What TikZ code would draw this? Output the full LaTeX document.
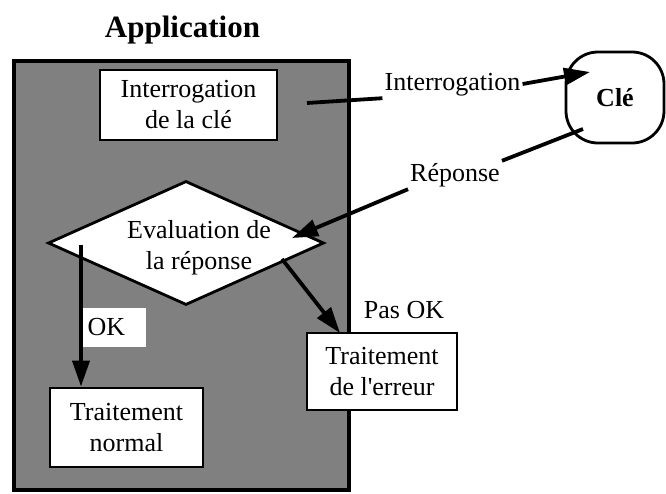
\documentclass[tikz,border=0pt]{standalone}
\usepackage{fontspec}
\setmainfont{Liberation Serif}[Ligatures=TeXOff]
\usetikzlibrary{arrows.meta,shapes.geometric}
\begin{document}
\begin{tikzpicture}[x=1pt,y=-1pt,
  txt/.style={font=\fontsize{26}{31}\selectfont},
  boxnode/.style={draw, line width=2.8pt, fill=white, txt, align=center, inner sep=0pt},
  arr/.style={line width=3.8pt, -{Triangle[length=26pt,width=17pt]}},
  lin/.style={line width=3.8pt},
  lbl/.style={txt, inner sep=2pt, text height=18pt, text depth=6pt}]
\useasboundingbox (0,0) rectangle (666,493);
% application area
\node[draw, line width=4pt, fill=black!50, minimum width=335, minimum height=429,
      anchor=north west, inner sep=0pt] (app) at (12,59) {};
\node[font=\bfseries\fontsize{31}{36}\selectfont, anchor=base] (title) at (182.5,37) {Application};
% boxes
\node[boxnode, minimum width=177, minimum height=70] (interro) at (188.5,105) {Interrogation\\de la clé};
\node[draw, line width=2.8pt, fill=white, diamond, minimum width=276, minimum height=124,
      inner sep=0pt] (eval) at (186,243) {};
\node[txt, align=center, inner sep=0pt] (evaltxt) at (199,248) {Evaluation de\\la réponse};
\node[boxnode, minimum width=153, minimum height=79] (normal) at (126.5,427.5) {Traitement\\normal};
\node[boxnode, minimum width=150, minimum height=77] (erreur) at (382,371.5) {Traitement\\de l'erreur};
\node[draw, line width=2.8pt, fill=white, rounded corners=32pt, minimum width=98, minimum height=91,
      inner sep=0pt, font=\bfseries\fontsize{26}{30}\selectfont] (cle) at (615,97.5) {Clé};
% labels
\node[lbl] (iq) at (452.5,84) {Interrogation};
\node[lbl] (rep) at (455,175) {Réponse};
\node[txt, anchor=base] (pasok) at (404,318) {Pas OK};
\node[fill=white, txt, anchor=west, text width=53pt, align=left, inner xsep=5pt, inner ysep=0pt,
      minimum height=39] (ok) at (82.5,327.5) {OK};
% connector end points
\coordinate (iqstart) at (307,103);
\coordinate (iqtip) at (590,72);
\coordinate (repstart) at (583,129);
\coordinate (reptip) at (292,238);
\coordinate (passtart) at (282,259);
\coordinate (pastip) at (340,333);
\coordinate (okstart) at (81,245);
% connectors
\draw[lin] (iqstart) -- (iq.south west);
\draw[arr] (iq.east) -- (iqtip);
\draw[lin] (repstart) -- (rep.north east);
\draw[arr] (rep.south west) -- (reptip);
\draw[arr] (passtart) -- (pastip);
\draw[arr] (okstart) -- (okstart |- normal.north);
\end{tikzpicture}
\end{document}
